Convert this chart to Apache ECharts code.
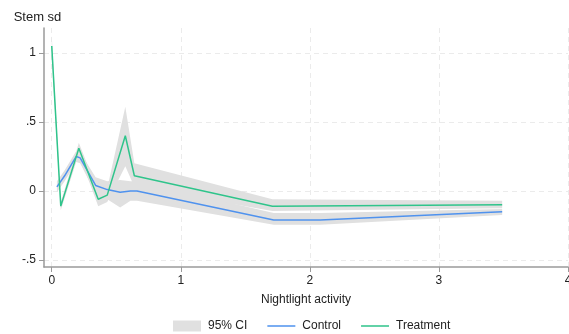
<!DOCTYPE html>
<html>
<head>
<meta charset="utf-8">
<script src="https://cdn.jsdelivr.net/npm/echarts@6/dist/echarts.min.js"></script>
<style>html,body{margin:0;padding:0;background:#fff}#c{width:569px;height:334px}</style>
</head>
<body>
<div id="c"></div>
<script>
// ---- data ----
var xTicks = [0, 1, 2, 3, 4];
var yTicks = [-0.5, 0, 0.5, 1];

var ctrlX  = [0.04, 0.10, 0.19, 0.22, 0.34, 0.43, 0.53, 0.61, 0.66, 1.72, 2.08, 3.49];
var ctrlY  = [0.03, 0.11, 0.25, 0.24, 0.04, 0.01, -0.01, 0.00, 0.00, -0.21, -0.21, -0.15];
var ctrlLo = [-0.01, 0.07, 0.21, 0.20, -0.02, -0.06, -0.12, -0.07, -0.07, -0.245, -0.245, -0.175];
var ctrlHi = [0.07, 0.15, 0.29, 0.28, 0.10, 0.07, 0.08, 0.07, 0.07, -0.16, -0.16, -0.13];

var trtX  = [0.00, 0.07, 0.21, 0.36, 0.43, 0.57, 0.64, 1.71, 3.49];
var trtY  = [1.05, -0.11, 0.31, -0.06, -0.03, 0.40, 0.11, -0.11, -0.10];
var trtLo = [0.97, -0.14, 0.27, -0.11, -0.08, 0.18, 0.03, -0.145, -0.125];
var trtHi = [1.13, -0.08, 0.35, -0.01, 0.02, 0.61, 0.20, -0.06, -0.07];

var seriesNames = ['Control', 'Treatment'];
var ciName = '95% CI';
var colors = { ctrl: '#4f92ee', trt: '#2fc48b', ci: '#e0e0e0', axis: '#9a9a9a', grid: '#ebebeb' };
var FONT = 'Liberation Sans, Arial, Helvetica, sans-serif';
// legend line icon: thin bar inside a 28x11 box (tiny corner marks fix the box)
var LINE_ICON = 'path://M0,0L0.01,0L0,0.01Z M0,4.75L28,4.75L28,6.25L0,6.25Z M28,11L27.99,11L28,10.99Z';

function pairs(xs, ys) { return xs.map(function (x, i) { return [x, ys[i]]; }); }

function bandSeries(xs, lo, hi) {
  return {
    type: 'custom', name: ciName, silent: true, z: 1,
    itemStyle: { color: colors.ci },
    data: [[xs[0], lo[0]]],
    clip: true,
    renderItem: function (params, api) {
      var pts = [];
      for (var i = 0; i < xs.length; i++) pts.push(api.coord([xs[i], hi[i]]));
      for (var j = xs.length - 1; j >= 0; j--) pts.push(api.coord([xs[j], lo[j]]));
      return { type: 'polygon', shape: { points: pts }, style: { fill: colors.ci } };
    }
  };
}

function fmtY(v) {
  if (v === 0) return '0';
  return String(v).replace('0.', '.');
}

var chart = echarts.init(document.getElementById('c'), null, { renderer: 'canvas' });
chart.setOption({
  animation: false,
  textStyle: { fontFamily: FONT },
  grid: { left: 44, right: 1, top: 28, bottom: 67, containLabel: false, outerBoundsMode: 'none' },
  legend: {
    left: 168, top: 315,
    itemWidth: 28, itemHeight: 11, itemGap: 20,
    textStyle: { fontFamily: FONT, fontSize: 12, color: '#222', padding: [0, 0, 0, 2] },
    data: [
      { name: ciName, icon: 'rect', itemStyle: { color: colors.ci } },
      { name: seriesNames[0], icon: LINE_ICON, itemStyle: { color: colors.ctrl } },
      { name: seriesNames[1], icon: LINE_ICON, itemStyle: { color: colors.trt } }
    ]
  },
  xAxis: {
    type: 'value', min: -0.06, max: 4,
    name: 'Nightlight activity', nameLocation: 'middle', nameGap: 27,
    nameTextStyle: { fontFamily: FONT, fontSize: 12, color: '#222' },
    axisLine: { show: true, onZero: false, lineStyle: { color: colors.axis, width: 1.5 } },
    axisTick: { show: true, length: 5, customValues: xTicks, lineStyle: { color: colors.axis, width: 1 } },
    axisLabel: { customValues: xTicks, margin: 8, fontFamily: FONT, fontSize: 12, color: '#222' },
    splitLine: { show: true, lineStyle: { color: colors.grid, type: [5, 4], width: 1 } }
  },
  yAxis: {
    type: 'value', min: -0.551, max: 1.181,
    name: 'Stem sd', nameLocation: 'end', nameGap: 4,
    nameTextStyle: { fontFamily: FONT, fontSize: 13, color: '#222', align: 'center', padding: [0, 13, 0, 0] },
    axisLine: { show: true, onZero: false, lineStyle: { color: colors.axis, width: 1.5 } },
    axisTick: { show: true, length: 5, customValues: yTicks, lineStyle: { color: colors.axis, width: 1 } },
    axisLabel: { customValues: yTicks, margin: 8, fontFamily: FONT, fontSize: 12, color: '#222', formatter: fmtY },
    splitLine: { show: true, lineStyle: { color: colors.grid, type: [5, 4], width: 1 } }
  },
  series: [
    bandSeries(trtX, trtLo, trtHi),
    bandSeries(ctrlX, ctrlLo, ctrlHi),
    {
      type: 'line', name: seriesNames[0], data: pairs(ctrlX, ctrlY), z: 3,
      symbol: 'none', lineStyle: { color: colors.ctrl, width: 1.5 }, itemStyle: { color: colors.ctrl }
    },
    {
      type: 'line', name: seriesNames[1], data: pairs(trtX, trtY), z: 4,
      symbol: 'none', lineStyle: { color: colors.trt, width: 1.5 }, itemStyle: { color: colors.trt }
    }
  ]
});
</script>
</body>
</html>
